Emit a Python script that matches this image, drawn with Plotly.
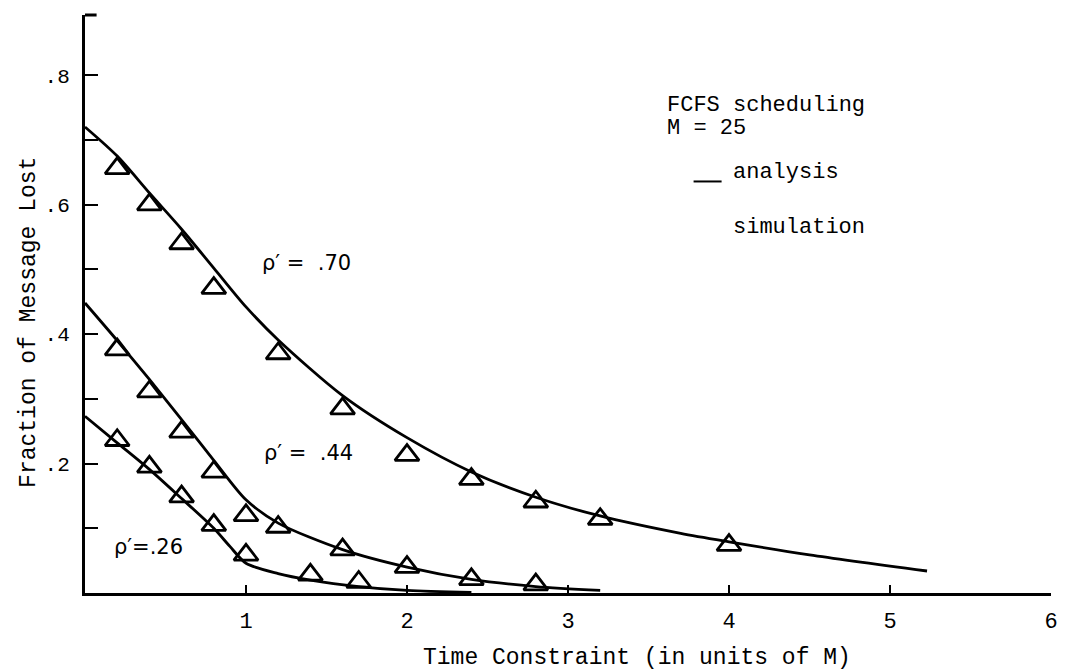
import plotly.graph_objects as go

# ---- analysis curves ----
x_a70 = [0, 0.2, 0.4, 0.6, 0.8, 1.0, 1.2, 1.6, 2.0, 2.4, 2.8, 3.2, 3.7, 4.0, 4.5, 5.23]
y_a70 = [0.72, 0.675, 0.618, 0.562, 0.502, 0.442, 0.391, 0.305, 0.240, 0.187, 0.148, 0.119, 0.092, 0.079, 0.059, 0.034]

x_a44 = [0, 0.2, 0.4, 0.6, 0.8, 1.0, 1.2, 1.6, 2.0, 2.4, 2.8, 3.2]
y_a44 = [0.448, 0.39, 0.33, 0.268, 0.205, 0.144, 0.108, 0.067, 0.040, 0.021, 0.010, 0.004]

x_a26 = [0, 0.2, 0.4, 0.6, 0.8, 0.9, 1.0, 1.2, 1.4, 1.7, 2.0, 2.4]
y_a26 = [0.273, 0.232, 0.191, 0.146, 0.100, 0.072, 0.046, 0.030, 0.020, 0.010, 0.004, 0.001]

# ---- simulation points ----
x_s70 = [0.2, 0.4, 0.6, 0.8, 1.2, 1.6, 2.0, 2.4, 2.8, 3.2, 4.0]
y_s70 = [0.656, 0.600, 0.540, 0.471, 0.370, 0.285, 0.213, 0.176, 0.141, 0.114, 0.074]

x_s44 = [0.2, 0.4, 0.6, 0.8, 1.0, 1.2, 1.6, 2.0, 2.4, 2.8]
y_s44 = [0.376, 0.311, 0.249, 0.187, 0.120, 0.102, 0.067, 0.040, 0.021, 0.013]

x_s26 = [0.2, 0.4, 0.6, 0.8, 1.0, 1.4, 1.7]
y_s26 = [0.236, 0.195, 0.149, 0.105, 0.059, 0.028, 0.017]

x_ticks = [1, 2, 3, 4, 5, 6]
y_ticks = [0.1, 0.2, 0.3, 0.4, 0.5, 0.6, 0.7, 0.8]
y_ticktext = ["", ".2", "", ".4", "", ".6", "", ".8"]

labels = [("ρ′ =  .70", 1.09, 0.51), ("ρ′ =  .44", 1.10, 0.216), ("ρ′=.26", 0.165, 0.071)]

FONT = "Liberation Mono"

fig = go.Figure()
for xs, ys in [(x_a70, y_a70), (x_a44, y_a44), (x_a26, y_a26)]:
    fig.add_trace(go.Scatter(x=xs, y=ys, mode="lines", line=dict(color="black", width=2.8, shape="spline", smoothing=0.8),
                             showlegend=False, hoverinfo="skip"))
for xs, ys in [(x_s70, y_s70), (x_s44, y_s44), (x_s26, y_s26)]:
    fig.add_trace(go.Scatter(x=xs, y=ys, mode="markers",
                             marker=dict(symbol="triangle-up-open", size=21, color="black", line=dict(width=2.8, color="black")),
                             showlegend=False, hoverinfo="skip"))

for txt, lx, ly in labels:
    fig.add_annotation(x=lx, y=ly, text=txt, showarrow=False, xanchor="left", yanchor="middle",
                       font=dict(family="DejaVu Sans", size=21, color="black"))

# legend block text
tf = dict(family=FONT, size=22, color="black")
fig.add_annotation(xref="paper", yref="paper", x=0.600, y=0.843, text="FCFS scheduling", showarrow=False,
                   xanchor="left", yanchor="middle", font=tf)
fig.add_annotation(xref="paper", yref="paper", x=0.600, y=0.803, text="M = 25", showarrow=False,
                   xanchor="left", yanchor="middle", font=tf)
fig.add_annotation(xref="paper", yref="paper", x=0.669, y=0.728, text="analysis", showarrow=False,
                   xanchor="left", yanchor="middle", font=tf)
fig.add_annotation(xref="paper", yref="paper", x=0.669, y=0.633, text="simulation", showarrow=False,
                   xanchor="left", yanchor="middle", font=tf)
fig.add_shape(type="line", xref="paper", yref="paper", x0=0.630, x1=0.659, y0=0.712, y1=0.712,
              line=dict(color="black", width=2))

# axis titles
tt = dict(family=FONT, size=23, color="black")
fig.add_annotation(xref="paper", yref="paper", x=0.571, y=-0.112, text="Time Constraint (in units of M)",
                   showarrow=False, xanchor="center", yanchor="middle", font=tt)
fig.add_annotation(xref="paper", yref="paper", x=-0.058, y=0.469, text="Fraction of Message Lost",
                   showarrow=False, xanchor="center", yanchor="middle", textangle=-90, font=tt)

# top stub of y axis
fig.add_shape(type="line", xref="x domain", yref="y domain", x0=0, x1=0.012, y0=1, y1=1,
              line=dict(color="black", width=3))

fig.update_layout(
    width=1065, height=670,
    margin=dict(l=85, r=7, t=15, b=77),
    paper_bgcolor="white", plot_bgcolor="white",
    font=dict(family=FONT, color="black"),
    xaxis=dict(range=[0, 6], tickvals=x_ticks, ticktext=[str(v) for v in x_ticks], ticks="inside", ticklen=8,
               tickwidth=2, tickcolor="black", showline=True, linewidth=3, linecolor="black", showgrid=False,
               zeroline=False, tickfont=dict(family=FONT, size=22), ticklabelstandoff=6),
    yaxis=dict(range=[0, 0.893], tickvals=y_ticks, ticktext=y_ticktext, ticks="inside", ticklen=13,
               tickwidth=2, tickcolor="black", showline=True, linewidth=3, linecolor="black", showgrid=False,
               zeroline=False, tickfont=dict(family=FONT, size=21), ticklabelstandoff=8),
)

fig.write_html("out.html")
